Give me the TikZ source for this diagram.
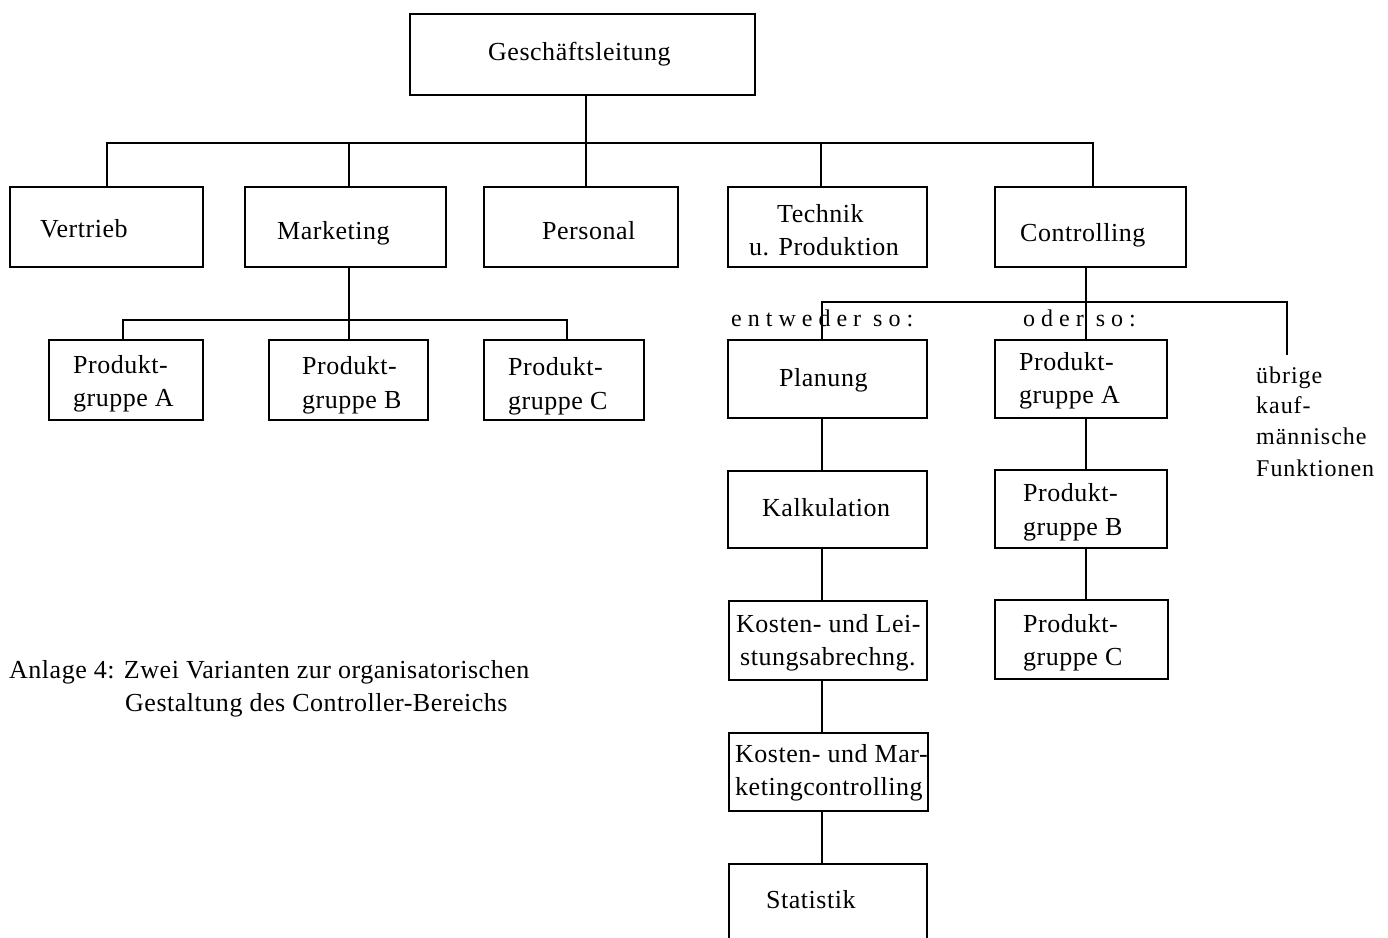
\documentclass[tikz,border=0pt]{standalone}
\usepackage{fontspec}
\setmainfont[LetterSpace=2]{Liberation Serif}
\newfontfamily\spacedfont[LetterSpace=25]{Liberation Serif}
\newfontfamily\slightfont[LetterSpace=4]{Liberation Serif}
\newcommand{\bx}[5]{\node[box, minimum width={(#4-#2)*1pt}, minimum height={(#5-#3)*1pt}] (#1) at ({(#2+#4)/2},{(#3+#5)/2}) {};}
\newcommand{\tx}[4]{\node[txt] (#1) at (#2,#3) {#4};}
\begin{document}
\begin{tikzpicture}[x=1pt,y=-1pt,
  box/.style={draw, line width=2.8pt, inner sep=0pt},
  txt/.style={anchor=base west, inner sep=0pt, font=\fontsize{26}{33}\selectfont},
  sptxt/.style={anchor=base west, inner sep=0pt, font=\fontsize{24}{30}\spacedfont},
  ubtxt/.style={anchor=base west, inner sep=0pt, font=\fontsize{24}{30}\slightfont},
  ln/.style={line width=2.8pt}]
\useasboundingbox (0,0) rectangle (1388,937);
\fill[white] (0,0) rectangle (1388,937);
\clip (0,0) rectangle (1388,937);
% boxes
\bx{gl}{410}{14}{755}{95}
\bx{vertrieb}{10}{187}{203}{267}
\bx{marketing}{245}{187}{446}{267}
\bx{personal}{484}{187}{678}{267}
\bx{technik}{728}{187}{927}{267}
\bx{controlling}{995}{187}{1186}{267}
\bx{mpa}{49}{340}{203}{420}
\bx{mpb}{269}{340}{428}{420}
\bx{mpc}{484}{340}{644}{420}
\bx{planung}{728}{340}{927}{418}
\bx{kalk}{728}{471}{927}{548}
\bx{kle}{729}{601}{927}{680}
\bx{kma}{729}{733}{928}{811}
\bx{stat}{729}{864}{927}{960}
\bx{cpa}{995}{340}{1167}{418}
\bx{cpb}{995}{470}{1167}{548}
\bx{cpc}{995}{600}{1168}{679}
% bus coordinates
\coordinate (bus) at (586,143);
\coordinate (dv) at (107,143);
\coordinate (dm) at (349,143);
\coordinate (dt) at (821,143);
\coordinate (dc) at (1093,143);
\coordinate (ma) at (123,320);
\coordinate (mb) at (349,320);
\coordinate (mc) at (567,320);
\coordinate (cl) at (822,302);
\coordinate (cb) at (1086,302);
\coordinate (cr) at (1287,302);
\coordinate (ue) at (1287,355);
% top level connectors
\draw[ln] (gl.south -| bus) -- (personal.north -| bus);
\draw[ln] (vertrieb.north -| dv) -- (dv) -- (dc) -- (controlling.north -| dc);
\draw[ln] (dm) -- (marketing.north -| dm);
\draw[ln] (dt) -- (technik.north -| dt);
% marketing subtree
\draw[ln] (marketing.south -| mb) -- (mpb.north -| mb);
\draw[ln] (mpa.north -| ma) -- (ma) -- (mc) -- (mpc.north -| mc);
% controlling subtree
\draw[ln] (controlling.south -| cb) -- (cpa.north -| cb);
\draw[ln] (planung.north -| cl) -- (cl) -- (cr) -- (ue);
\draw[ln] (planung.south -| cl) -- (kalk.north -| cl);
\draw[ln] (kalk.south -| cl) -- (kle.north -| cl);
\draw[ln] (kle.south -| cl) -- (kma.north -| cl);
\draw[ln] (kma.south -| cl) -- (stat.north -| cl);
\draw[ln] (cpa.south -| cb) -- (cpb.north -| cb);
\draw[ln] (cpb.south -| cb) -- (cpc.north -| cb);
% texts
\tx{t1}{488}{60}{Geschäftsleitung}
\tx{t2}{40}{237}{Vertrieb}
\tx{t3}{277}{239}{Marketing}
\tx{t4}{542}{239}{Personal}
\tx{t5a}{777}{222}{Technik}
\tx{t5b}{749}{255}{u. Produktion}
\tx{t6}{1020}{241}{Controlling}
\tx{t7a}{73}{373}{Produkt-}
\tx{t7b}{73}{406}{gruppe A}
\tx{t8a}{302}{374}{Produkt-}
\tx{t8b}{302}{408}{gruppe B}
\tx{t9a}{508}{375}{Produkt-}
\tx{t9b}{508}{409}{gruppe C}
\node[sptxt] (e1) at (731,326) {entweder so:};
\node[sptxt] (e2) at (1023,326) {oder so:};
\tx{t10}{779}{386}{Planung}
\tx{t11a}{1019}{370}{Produkt-}
\tx{t11b}{1019}{403}{gruppe A}
\node[ubtxt] (u1) at (1256,383) {übrige};
\node[ubtxt] (u2) at (1256,413) {kauf-};
\node[ubtxt] (u3) at (1256,444) {männische};
\node[ubtxt] (u4) at (1256,476) {Funktionen};
\tx{t12}{762}{516}{Kalkulation}
\tx{t13a}{1023}{501}{Produkt-}
\tx{t13b}{1023}{535}{gruppe B}
\tx{t14a}{736}{632}{Kosten- und Lei-}
\tx{t14b}{740}{665}{stungsabrechng.}
\tx{t15a}{1023}{632}{Produkt-}
\tx{t15b}{1023}{665}{gruppe C}
\tx{c1}{9}{678}{Anlage 4: Zwei Varianten zur organisatorischen}
\tx{c2}{125}{711}{Gestaltung des Controller-Bereichs}
\tx{t16a}{735}{762}{Kosten- und Mar-}
\tx{t16b}{735}{795}{ketingcontrolling}
\tx{t17}{766}{908}{Statistik}
\end{tikzpicture}
\end{document}
